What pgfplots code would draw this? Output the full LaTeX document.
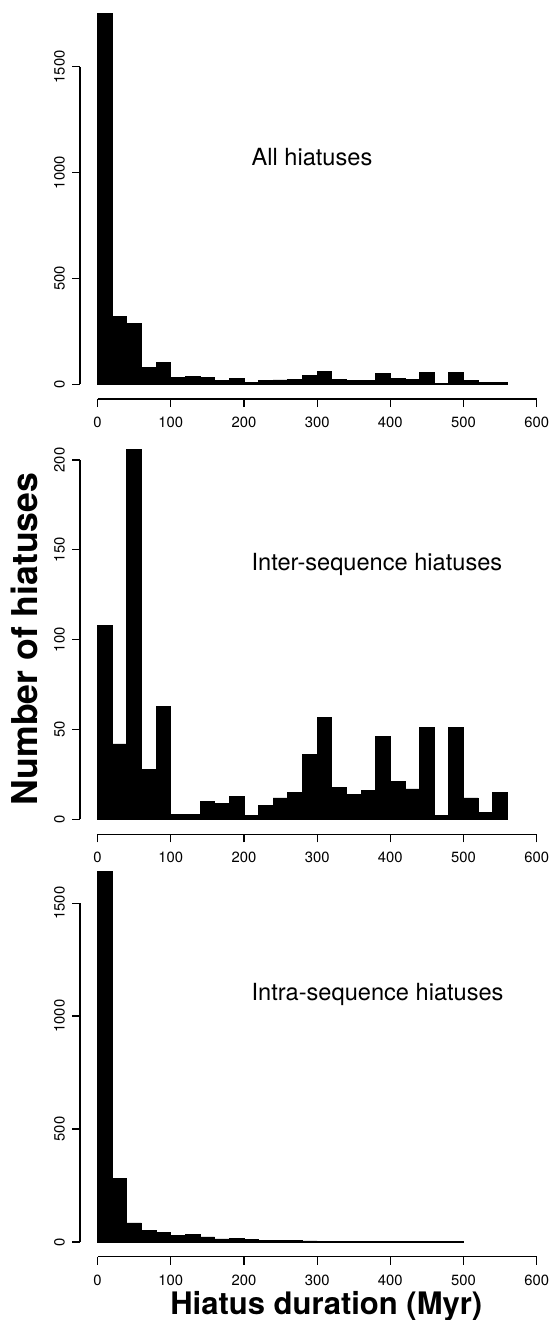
\documentclass[border=0pt]{standalone}
\usepackage{fontspec}
\setmainfont{TeX Gyre Heros}
\usepackage{pgfplots}
\pgfplotsset{compat=1.18}
\usepackage{pgfplotstable}

\pgfplotstableread{
x y
0 1751
20 321
40 288
60 79
80 102
100 30
120 36
140 32
160 19
180 27
200 9
220 17
240 20
260 24
280 42
300 61
320 21
340 17
360 19
380 50
400 25
420 21
440 55
460 4
480 55
500 16
520 7
540 10
560 0
}\allhiat

\pgfplotstableread{
x y
0 108
20 42
40 206
60 28
80 63
100 3
120 3
140 10
160 9
180 13
200 2
220 8
240 12
260 15
280 36
300 57
320 18
340 14
360 16
380 46
400 21
420 17
440 51
460 2
480 51
500 12
520 4
540 15
560 0
}\interhiat

\pgfplotstableread{
x y
0 1640
20 280
40 84
60 51
80 40
100 28
120 32
140 22
160 13
180 15
200 9
220 8
240 7
260 6
280 4
300 2
320 2
340 1
360 1
380 1
400 1
420 1
440 1
460 1
480 1
500 0
}\intrahiat

\pgfplotsset{
  hist/.style={
    scale only axis, width=228.35pt, height=200pt,
    xmin=-24, xmax=600,
    axis x line*=bottom, axis y line*=left,
    axis line style={draw=none},
    xtick={0,100,...,600},
    tick align=outside,
    major tick length=4pt,
    tick style={black, line width=0.6pt},
    scaled ticks=false,
    /pgf/number format/1000 sep={},
    /pgf/number format/assume math mode=true,
    tick label style={font=\fontsize{7.4}{8}\selectfont},
    yticklabel style={rotate=90, anchor=south, font=\fontsize{7.4}{8}\selectfont},
    xticklabel style={anchor=north, font=\fontsize{7.4}{8}\selectfont},
    xticklabel shift=1.5pt,
    clip=false,
    anchor=south west,
  },
  histbar/.style={ybar interval, fill=black, draw=black, line width=0.4pt},
}

\begin{document}
\begin{tikzpicture}
\path[use as bounding box] (0,0) rectangle (274pt,-660pt);

% Panel 1
\begin{axis}[hist, at={(40pt,-199.5pt)}, ymin=-70.04, ymax=1821.04, ytick={0,500,1000,1500}]
\addplot[histbar] table[x=x,y=y] {\allhiat};
\draw[line width=0.6pt] (axis cs:0,-70.04) -- (axis cs:600,-70.04);
\draw[line width=0.6pt] (axis cs:-24,0) -- (axis cs:-24,1500);
\node[anchor=base west, font=\fontsize{11.8}{14}\selectfont, inner sep=0pt] at (axis cs:210,1032) {All hiatuses};
\end{axis}

% Panel 2
\begin{axis}[hist, at={(40pt,-417.15pt)}, ymin=-8.24, ymax=214.24, ytick={0,50,100,150,200}]
\addplot[histbar] table[x=x,y=y] {\interhiat};
\draw[line width=0.6pt] (axis cs:0,-8.24) -- (axis cs:600,-8.24);
\draw[line width=0.6pt] (axis cs:-24,0) -- (axis cs:-24,200);
\node[anchor=base west, font=\fontsize{11.8}{14}\selectfont, inner sep=0pt] at (axis cs:210,138.4) {Inter-sequence hiatuses};
\end{axis}

% Panel 3
\begin{axis}[hist, at={(40pt,-628.35pt)}, ymin=-65.6, ymax=1705.6, ytick={0,500,1000,1500}]
\addplot[histbar] table[x=x,y=y] {\intrahiat};
\draw[line width=0.6pt] (axis cs:0,-65.6) -- (axis cs:600,-65.6);
\draw[line width=0.6pt] (axis cs:-24,0) -- (axis cs:-24,1500);
\node[anchor=base west, font=\fontsize{11.8}{14}\selectfont, inner sep=0pt] at (axis cs:210,1070) {Intra-sequence hiatuses};
\end{axis}

\node[rotate=90, anchor=base, font=\fontsize{17.8}{20}\selectfont\bfseries, inner sep=0pt] at (18.75pt,-319.5pt) {Number of hiatuses};
\node[anchor=base, font=\fontsize{15.5}{18}\selectfont\bfseries, inner sep=0pt] at (163.15pt,-657.4pt) {Hiatus duration (Myr)};
\end{tikzpicture}
\end{document}
